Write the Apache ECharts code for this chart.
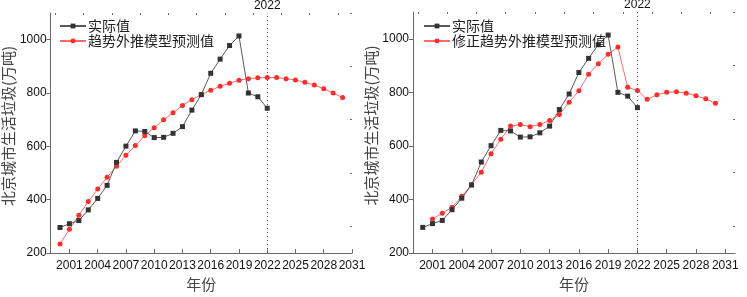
<!DOCTYPE html>
<html><head><meta charset="utf-8">
<script src="https://cdn.jsdelivr.net/npm/echarts@6/dist/echarts.min.js"></script>
<style>html,body{margin:0;padding:0;background:#fff}#c{width:747px;height:297px}</style>
</head><body><div id="c"></div>
<script>
const actualYears = [2000,2001,2002,2003,2004,2005,2006,2007,2008,2009,2010,2011,2012,2013,2014,2015,2016,2017,2018,2019,2020,2021,2022];
const actual = [296,310,322,362,405,454,540,601,658,656,633,634,649,674,736,794,874,927,978,1014,800,786,743];
const trendYears = [2000,2001,2002,2003,2004,2005,2006,2007,2008,2009,2010,2011,2012,2013,2014,2015,2016,2017,2018,2019,2020,2021,2022,2023,2024,2025,2026,2027,2028,2029,2030];
const trend = [234,289,342,393,440,484,526,567,603,640,670,700,726,753,775,794,810,825,837,848,854,857,858,858,854,849,840,830,816,800,783];
const corrYears = [2001,2002,2003,2004,2005,2006,2007,2008,2009,2010,2011,2012,2013,2014,2015,2016,2017,2018,2019,2020,2021,2022,2023,2024,2025,2026,2027,2028,2029,2030];
const corrected = [327,349,371,412,456,502,571,625,674,680,672,680,695,717,763,806,868,907,942,969,819,807,774,791,800,802,797,787,776,759];
const xTickLabels = [2001,2004,2007,2010,2013,2016,2019,2022,2025,2028,2031];
const xMinorTicks = [1999.5,2002.5,2005.5,2008.5,2011.5,2014.5,2017.5,2020.5,2023.5,2026.5,2029.5];
const yTickLabels = [200,400,600,800,1000];
const yMinorTicks = [300,500,700,900,1100];
const markYear = 2022;
const nameActual = '实际值';
const nameTrend = '趋势外推模型预测值';
const nameCorr = '修正趋势外推模型预测值';
const yName = '北京城市生活垃圾(万吨)';
const xName = '年份';

const pair = (xs, ys) => xs.map((x, i) => [x, ys[i]]);
const numFont = 'Liberation Sans';
const cjkFont = 'Noto Sans CJK SC';
const axisCol = '#6a6a6a';

function mainX(gi, max) {
  return {
    type: 'value', gridIndex: gi, min: 1999, max: max,
    axisLine: { show: true, lineStyle: { color: axisCol, width: 1 } },
    axisTick: { show: true, inside: true, length: 4, customValues: xTickLabels, lineStyle: { color: axisCol } },
    axisLabel: { customValues: xTickLabels, formatter: v => String(v), showMinLabel: true, showMaxLabel: true, hideOverlap: false,
                 color: '#111', fontSize: 12, fontFamily: numFont, margin: 7 },
    splitLine: { show: false },
    name: xName, nameLocation: 'middle', nameGap: 21,
    nameTextStyle: { fontSize: 15, color: '#444', fontFamily: cjkFont }
  };
}
function minorX(gi, max) {
  return {
    type: 'value', gridIndex: gi, min: 1999, max: max,
    axisLine: { show: false },
    axisTick: { show: true, inside: true, length: 2, customValues: xMinorTicks, lineStyle: { color: axisCol } },
    axisLabel: { show: false, customValues: xMinorTicks },
    splitLine: { show: false }
  };
}
function mainY(gi, gap) {
  return {
    type: 'value', gridIndex: gi, min: 200, max: 1100,
    axisLine: { show: true, lineStyle: { color: axisCol, width: 1 } },
    axisTick: { show: true, inside: false, length: 4, customValues: yTickLabels, lineStyle: { color: axisCol } },
    axisLabel: { customValues: yTickLabels, formatter: v => String(v), showMinLabel: true, hideOverlap: false,
                 color: '#111', fontSize: 12, fontFamily: numFont, margin: 4 },
    splitLine: { show: false },
    name: yName, nameLocation: 'middle', nameGap: gap,
    nameTextStyle: { fontSize: 15, color: '#444', fontFamily: cjkFont, padding: [0, 0, 0, 14] }
  };
}
function minorY(gi) {
  return {
    type: 'value', gridIndex: gi, min: 200, max: 1100,
    axisLine: { show: false },
    axisTick: { show: true, inside: true, length: 2, customValues: yMinorTicks, lineStyle: { color: axisCol } },
    axisLabel: { show: false, customValues: yMinorTicks },
    splitLine: { show: false }
  };
}
function blackSeries(xi, yi) {
  return {
    name: nameActual, type: 'line', xAxisIndex: xi, yAxisIndex: yi,
    data: pair(actualYears, actual),
    symbol: 'rect', symbolSize: 5, showSymbol: true,
    lineStyle: { color: '#5a5a5a', width: 1 },
    itemStyle: { color: '#333' },
    z: 3,
    markLine: {
      silent: true, symbol: ['none', 'none'],
      lineStyle: { color: '#444', type: [1, 3], width: 1 },
      label: { show: true, position: 'end', formatter: String(markYear), color: '#111', fontSize: 12, fontFamily: numFont, distance: 1 },
      data: [{ xAxis: markYear }]
    }
  };
}
function redSeries(name, xs, ys, xi, yi) {
  return {
    name: name, type: 'line', xAxisIndex: xi, yAxisIndex: yi,
    data: pair(xs, ys),
    symbol: 'circle', symbolSize: 5, showSymbol: true,
    lineStyle: { color: '#ff6a6a', width: 1 },
    itemStyle: { color: '#ff2a2a' },
    z: 2
  };
}
const legendCommon = {
  orient: 'vertical', itemWidth: 26, itemHeight: 6, itemGap: 1,
  textStyle: { fontSize: 14, color: '#222', fontFamily: cjkFont, padding: [0, 0, 0, -3] },
  selectedMode: false
};

const chart = echarts.init(document.getElementById('c'), null, { renderer: 'canvas' });
chart.setOption({
  animation: false,
  backgroundColor: '#fff',
  grid: [
    { left: 50, top: 13, width: 302, height: 244 },
    { left: 413, top: 12, width: 322, height: 245 }
  ],
  xAxis: [mainX(0, 2031), mainX(1, 2032), minorX(0, 2031), minorX(1, 2032)],
  yAxis: [mainY(0, 32), mainY(1, 30), minorY(0), minorY(1)],
  legend: [
    Object.assign({ left: 54, top: 14, data: [nameActual, nameTrend] }, legendCommon),
    Object.assign({ left: 418, top: 14, data: [nameActual, nameCorr] }, legendCommon)
  ],
  series: [
    blackSeries(0, 0),
    redSeries(nameTrend, trendYears, trend, 0, 0),
    blackSeries(1, 1),
    redSeries(nameCorr, corrYears, corrected, 1, 1)
  ]
});
</script>
</body></html>
